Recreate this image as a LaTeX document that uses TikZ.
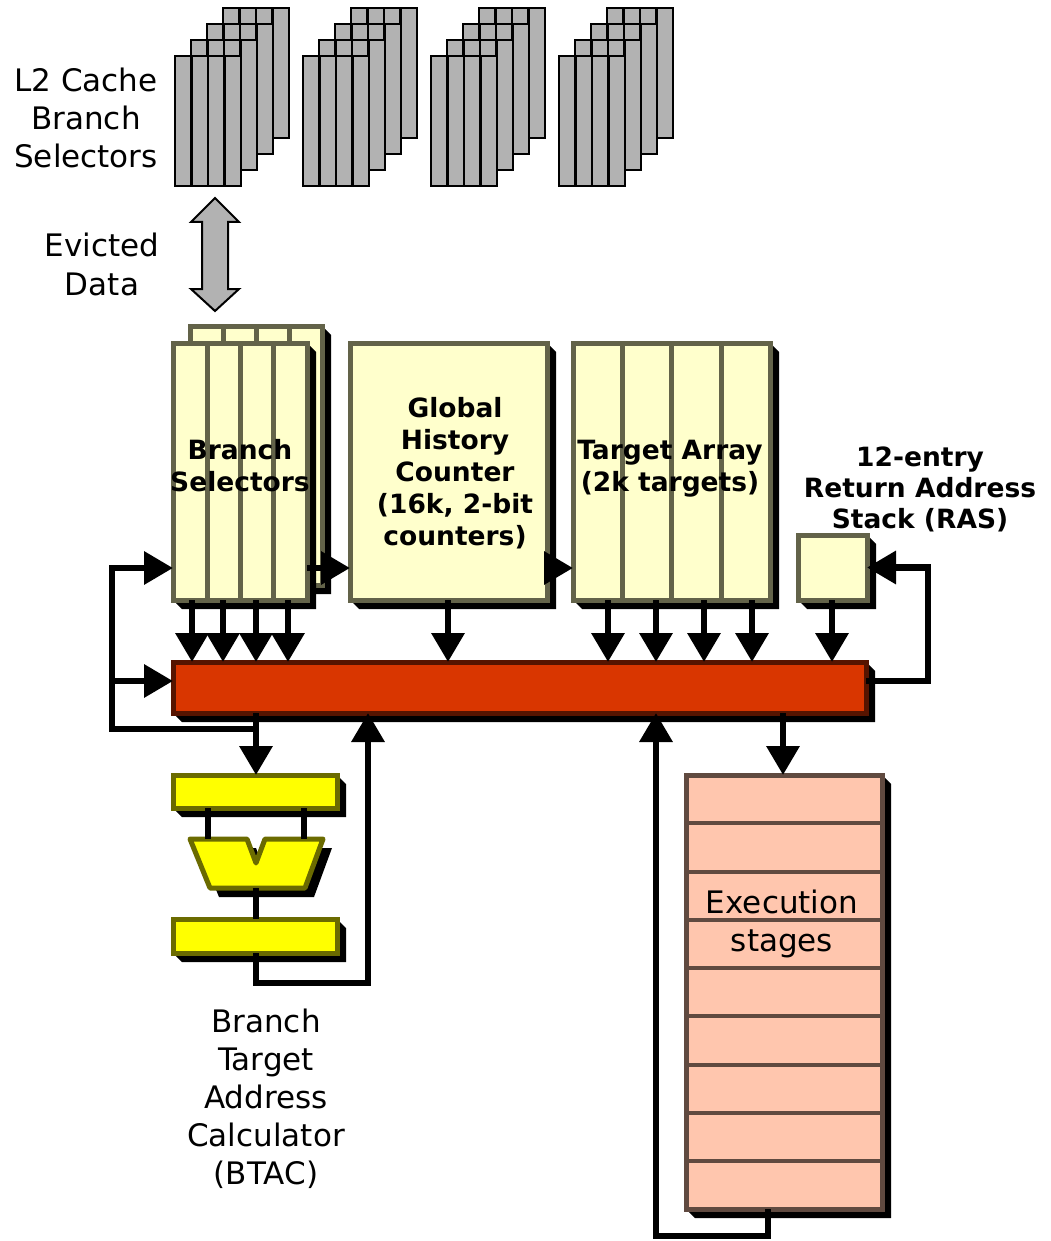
\documentclass[tikz,border=0pt]{standalone}
\usepackage{fontspec}
\setmainfont{DejaVu Sans}
\usetikzlibrary{arrows.meta,calc}

\definecolor{cardgray}{HTML}{B2B2B2}
\definecolor{paleyel}{HTML}{FFFFCC}
\definecolor{olivegray}{HTML}{636349}
\definecolor{barred}{HTML}{D93600}
\definecolor{barrim}{HTML}{561400}
\definecolor{brightyel}{HTML}{FFFF00}
\definecolor{yelrim}{HTML}{6B6B00}
\definecolor{peach}{HTML}{FFC6AE}
\definecolor{peachrim}{HTML}{604A40}

% box with an extruded black shadow: [style]{x0}{y0}{x1}{y1}{name}
\newcommand\boxnode[6][]{%
  \fill[black] (#4,#3) -- (#4+9,#3+9) -- (#4+9,#5+9) -- (#2+9,#5+9) -- (#2,#5) -- cycle;
  \node[#1, minimum width={(#4-#2)*1pt}, minimum height={(#5-#3)*1pt}]
    (#6) at ({(#2+#4)/2},{(#3+#5)/2}) {};
}
% centred lines of text, one node per line: {style}{name}{x}{first baseline}{step}{lines}
\newcommand\stacklabel[6]{%
  \foreach \txt [count=\i from 0] in {#6}
    \node[#1, anchor=base, inner sep=0pt] (#2\i) at (#3,{#4+\i*#5}) {\txt};
}

\begin{document}
\begin{tikzpicture}[x=1pt,y=-1pt,
  card/.style={fill=cardgray, draw=black, line width=2.8pt},
  unit/.style={rectangle, inner sep=0pt, outer sep=0pt, line width=5pt},
  sram/.style={unit, fill=paleyel, draw=olivegray},
  bus/.style={unit, fill=barred, draw=barrim},
  latch/.style={unit, fill=brightyel, draw=yelrim},
  pipe/.style={unit, fill=peach, draw=peachrim},
  wire/.style={line width=6.5pt, draw=black},
  arr/.style={wire, -{Triangle[width=32pt,length=29pt]}},
  lab/.style={font=\fontsize{31}{38}\selectfont},
  blab/.style={font=\fontsize{26.5}{32}\selectfont\bfseries},
]
\useasboundingbox (0,0) rectangle (1051,1241);
\fill[white] (0,0) rectangle (1051,1241);

% L2 cache branch selector banks
\foreach \s in {0,1,2,3} {
  \foreach \k in {3,2,1,0} {
    \pgfmathsetmacro\cx{175+128*\s+16*\k}
    \pgfmathsetmacro\cy{56-16*\k}
    \draw[card] (\cx,\cy) rectangle ++(66,130);
    \foreach \j in {1,2,3}
      \draw[black, line width=2.8pt] (\cx+16.5*\j,\cy) -- ++(0,130);
  }
}
\stacklabel{lab}{l2}{86}{92}{38}{L2 Cache,Branch,Selectors}

% eviction path
\draw[fill=cardgray, draw=black, line width=2pt]
  (215,198) -- (239,222) -- (228,222) -- (228,289) -- (239,289) -- (215,311)
  -- (191,289) -- (202,289) -- (202,222) -- (191,222) -- cycle;
\stacklabel{lab}{ev}{102}{257}{38}{Evicted,Data}

% branch selectors (two copies)
\boxnode[sram]{190}{326}{322}{585}{bsback}
\foreach \x in {223,256,289}
  \draw[olivegray, line width=5pt] (\x,326) -- (\x,585);
\boxnode[sram]{173}{343}{307}{600}{bs}
\foreach \x in {207,240,273}
  \draw[olivegray, line width=5pt] (\x,343) -- (\x,600);
\stacklabel{blab}{bst}{240}{459}{32}{Branch,Selectors}

% global history counter
\boxnode[sram]{350}{343}{547}{600}{ghc}
\stacklabel{blab}{ght}{455}{417}{32}{Global,History,Counter,{(16k, 2-bit},counters)}

% target array
\boxnode[sram]{573}{343}{770}{600}{ta}
\foreach \x in {622,671.5,721}
  \draw[olivegray, line width=5pt] (\x,343) -- (\x,600);
\stacklabel{blab}{tat}{670}{459}{32}{Target Array,(2k targets)}

% return address stack
\boxnode[sram]{798}{535}{867}{600}{ras}
\stacklabel{blab}{rast}{920}{466}{31}{12-entry,Return Address,Stack (RAS)}

% prediction bus
\boxnode[bus]{173}{662}{866}{713}{bar}

% BTAC: latch, adder, latch
\boxnode[latch]{173}{775}{337}{808}{lat1}
\boxnode[latch]{173}{919}{337}{953}{lat2}
\fill[black, shift={(9,9)}]
  (190,839) -- (247,839) -- (256,863) -- (265,839) -- (323,839) -- (305,888) -- (210,888) -- cycle;
\draw[fill=brightyel, draw=yelrim, line width=5pt, line join=round]
  (190,839) -- (247,839) -- (256,863) -- (265,839) -- (323,839) -- (305,888) -- (210,888) -- cycle;
\coordinate (addl) at (208,839);
\coordinate (addr) at (304,839);
\coordinate (addo) at (256,888);
\stacklabel{lab}{btac}{266}{1032}{38}{Branch,Target,Address,Calculator,(BTAC)}

% execution pipeline
\boxnode[pipe]{686}{775}{882}{1209}{ex}
\foreach \k in {1,...,8}
  \draw[peachrim, line width=4pt] (686,{775+48.25*\k}) -- (882,{775+48.25*\k});
\stacklabel{lab}{ext}{782}{913}{38}{Execution,stages}

% routing coordinates
\coordinate (yfb) at (0,568);
\coordinate (yb)  at (0,681);
\coordinate (lk)  at (112,729);
\coordinate (xbt) at (256,0);
\coordinate (xr)  at (368,0);
\coordinate (yl)  at (0,983);
\coordinate (xe)  at (783,0);
\coordinate (xo)  at (768,0);
\coordinate (xf)  at (656,0);
\coordinate (ybot) at (0,1236);
\coordinate (rk)  at (928,0);
\foreach \x [count=\i] in {192,223,256,288} \coordinate (bsc\i) at (\x,0);
\foreach \x [count=\i] in {608,656,704,752} \coordinate (tac\i) at (\x,0);
\coordinate (ghcx) at (448,0);
\coordinate (rasx) at (832,0);

% reads onto the bus
\foreach \i in {1,...,4} {
  \draw[arr] (bs.south -| bsc\i) -- (bar.north -| bsc\i);
  \draw[arr] (ta.south -| tac\i) -- (bar.north -| tac\i);
}
\draw[arr] (ghc.south -| ghcx) -- (bar.north -| ghcx);
\draw[arr] (ras.south -| rasx) -- (bar.north -| rasx);

% index chain between the arrays
\draw[arr] (bs.east |- yfb) -- (ghc.west |- yfb);
\draw[arr] (ghc.east |- yfb) -- (ta.west |- yfb);

% bus to BTAC and feedback loops on the left
\draw[arr] (bar.south -| xbt) -- (lat1.north -| xbt);
\draw[arr] (xbt |- lk) -- (lk) -- (lk |- yfb) -- (bs.west |- yfb);
\draw[arr] (lk |- yb) -- (bar.west |- yb);

% BTAC internals and result
\draw[wire] (lat1.south -| addl) -- (addl);
\draw[wire] (lat1.south -| addr) -- (addr);
\draw[wire] (addo) -- (lat2.north -| addo);
\draw[arr] (lat2.south -| xbt) -- (xbt |- yl) -- (xr |- yl) -- (xr |- bar.south);

% bus to return address stack
\draw[arr] (bar.east |- yb) -- (rk |- yb) -- (rk |- ras.east) -- (ras.east);

% bus to execution and resolution loop back
\draw[arr] (bar.south -| xe) -- (ex.north -| xe);
\draw[arr] (ex.south -| xo) -- (xo |- ybot) -- (xf |- ybot) -- (xf |- bar.south);
\end{tikzpicture}
\end{document}
